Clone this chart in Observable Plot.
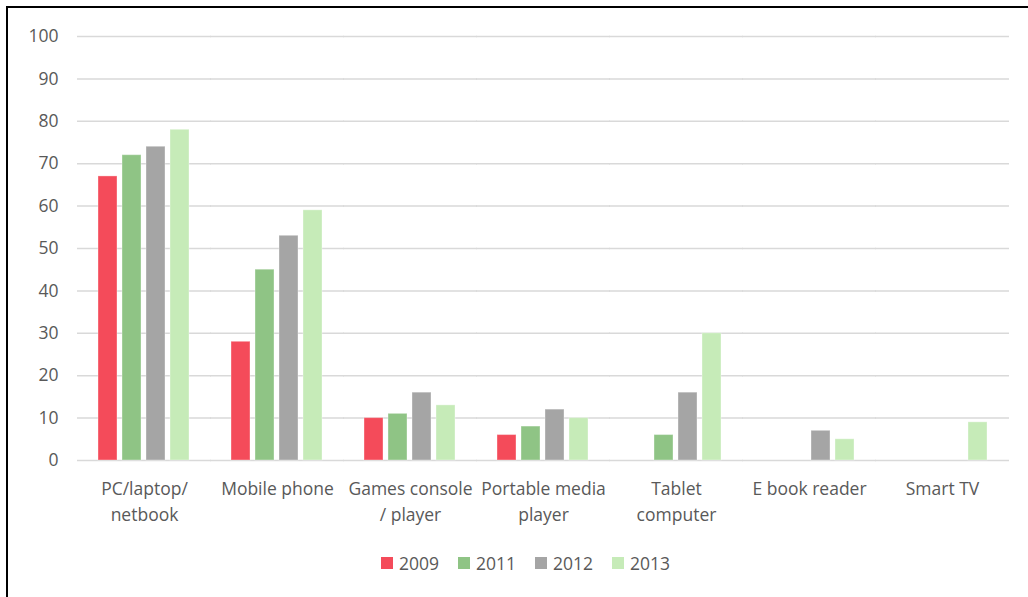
<!DOCTYPE html>
<html>
<head>
<meta charset="utf-8">
<script src="https://cdn.jsdelivr.net/npm/d3@7"></script>
<script src="https://cdn.jsdelivr.net/npm/@observablehq/plot@0.6"></script>
<style>
  html, body { margin: 0; padding: 0; background: #fff; }
  #frame { position: absolute; left: 6px; top: 6px; width: 1030px; height: 600px;
           border-left: 2px solid #000; border-top: 2px solid #000; box-sizing: border-box; }
  #chart { position: absolute; left: 0; top: 0; }
  #legend { position: absolute; left: 381px; top: 551px; display: flex;
            font-family: "Open Sans", sans-serif; font-size: 17.5px; color: #595959; }
  .item { display: flex; align-items: center; margin-right: 19px; }
  .sw { width: 12px; height: 12px; margin-right: 6px; }
</style>
</head>
<body>
<div id="frame"></div>
<div id="chart"></div>
<div id="legend"></div>
<script>
const categories = ["PC/laptop/\nnetbook", "Mobile phone", "Games console\n/ player", "Portable media\nplayer", "Tablet\ncomputer", "E book reader", "Smart TV"];
const years = ["2009", "2011", "2012", "2013"];
const values2009 = [67, 28, 10, 6, null, null, null];
const values2011 = [72, 45, 11, 8, 6, null, null];
const values2012 = [74, 53, 16, 12, 16, 7, null];
const values2013 = [78, 59, 13, 10, 30, 5, 9];
const yTicks = [0, 10, 20, 30, 40, 50, 60, 70, 80, 90, 100];
const colors = ["#f44b5a", "#8fc485", "#a5a5a5", "#c6ebb8"];

const series = [values2009, values2011, values2012, values2013];
const rows = [];
categories.forEach((c, i) => {
  years.forEach((y, j) => {
    const v = series[j][i];
    if (v != null) rows.push({category: c, year: y, value: v});
  });
});

const chart = Plot.plot({
  width: 1028,
  height: 530,
  marginLeft: 76,
  marginRight: 18,
  marginTop: 36,
  marginBottom: 70,
  style: { fontFamily: "'Open Sans', sans-serif", fontSize: "17.5px", color: "#595959", background: "transparent" },
  fx: { domain: categories, paddingInner: 0.31, paddingOuter: 0.155, label: null },
  x: { domain: years, paddingInner: 0.2, paddingOuter: 0, axis: null },
  y: { domain: [0, 100], ticks: yTicks, label: null },
  color: { domain: years, range: colors },
  marks: [
    Plot.ruleY(yTicks, { stroke: "#d9d9d9", strokeWidth: 1.5, insetLeft: -21, insetRight: -21 }),
    Plot.axisY(yTicks, { tickSize: 0, tickPadding: 40, fontSize: 17.5, fill: "#595959", label: null }),
    Plot.axisFx({ anchor: "bottom", tickSize: 0, tickPadding: 16, fontSize: 17.5, fill: "#595959", lineHeight: 1.5, label: null }),
    Plot.barY(rows, { fx: "category", x: "year", y: "value", fill: "year", stroke: "white", strokeOpacity: 0.35, strokeWidth: 1 })
  ]
});
document.getElementById("chart").appendChild(chart);

const legend = document.getElementById("legend");
years.forEach((y, j) => {
  const item = document.createElement("div");
  item.className = "item";
  const sw = document.createElement("span");
  sw.className = "sw";
  sw.style.background = colors[j];
  const t = document.createElement("span");
  t.textContent = y;
  item.appendChild(sw);
  item.appendChild(t);
  legend.appendChild(item);
});
</script>
</body>
</html>
